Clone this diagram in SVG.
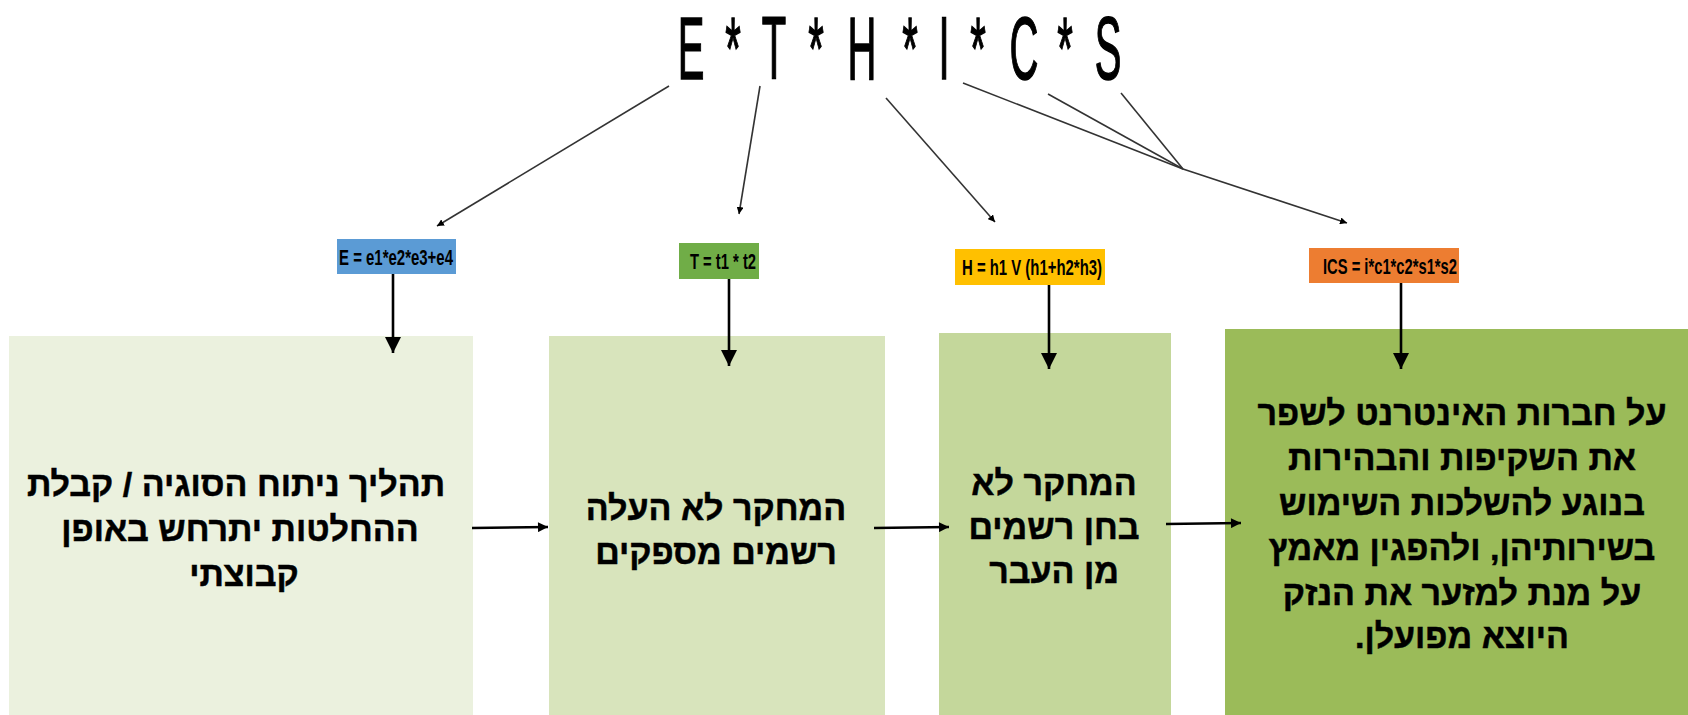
<svg xmlns="http://www.w3.org/2000/svg" width="1688" height="715" viewBox="0 0 1688 715">
<style>
.he{font-family:"Liberation Sans","DejaVu Sans",sans-serif;font-weight:bold;font-size:34px;fill:#000;stroke:#000;stroke-width:0.5;text-anchor:middle;direction:rtl;unicode-bidi:embed}
.lbl{font-family:"Liberation Sans","DejaVu Sans",sans-serif;font-weight:bold;font-size:22px;fill:#000;text-anchor:middle}
.thin{stroke:#333;stroke-width:1.6;fill:none}
.thick{stroke:#000;stroke-width:2.6;fill:none}
</style>
<defs>
<marker id="ah" viewBox="0 0 10 10" refX="10" refY="5" markerWidth="7" markerHeight="7" markerUnits="userSpaceOnUse" orient="auto"><path d="M0,0 L10,5 L0,10 z" fill="#000"/></marker>
<marker id="ahs" viewBox="0 0 10 10" refX="10" refY="5" markerWidth="12" markerHeight="10" markerUnits="userSpaceOnUse" orient="auto"><path d="M0,0 L10,5 L0,10 z" fill="#000"/></marker>
<marker id="ahb" viewBox="0 0 10 10" refX="10" refY="5" markerWidth="16" markerHeight="16" markerUnits="userSpaceOnUse" orient="auto"><path d="M0,0 L10,5 L0,10 z" fill="#000"/></marker>
</defs>
<rect width="1688" height="715" fill="#fff"/>

<g id="title" transform="translate(691,0) scale(0.45,1)">
<text x="0 93.3 184.4 277.8 380 486.7 562.2 637.8 740 831.1 926.7" y="79" font-family="Liberation Sans, sans-serif" font-size="89" text-anchor="middle" fill="#000" stroke="#000" stroke-width="1.5">E*T*H*I*C*S</text>
</g>

<g id="label-e">
<rect x="337" y="239" width="119" height="35" fill="#5B9BD5"/>
<text class="lbl" x="396" y="265" textLength="114" lengthAdjust="spacingAndGlyphs">E = e1*e2*e3+e4</text>
</g>
<g id="label-t">
<rect x="679" y="243" width="80" height="36" fill="#70AD47"/>
<text class="lbl" x="723" y="269" textLength="66" lengthAdjust="spacingAndGlyphs">T = t1 * t2</text>
</g>
<g id="label-h">
<rect x="955" y="249" width="150" height="36" fill="#FFC000"/>
<text class="lbl" x="1032" y="275" textLength="140" lengthAdjust="spacingAndGlyphs">H = h1 V (h1+h2*h3)</text>
</g>
<g id="label-ics">
<rect x="1309" y="248" width="150" height="35" fill="#ED7D31"/>
<text class="lbl" x="1390" y="274" textLength="134" lengthAdjust="spacingAndGlyphs">ICS = i*c1*c2*s1*s2</text>
</g>

<g id="box1">
<rect x="9" y="336" width="464" height="379" fill="#EBF1DE"/>
<text class="he" x="236" y="496">תהליך ניתוח הסוגיה / קבלת</text>
<text class="he" x="240" y="541">ההחלטות יתרחש באופן</text>
<text class="he" x="244" y="586">קבוצתי</text>
</g>
<g id="box2">
<rect x="549" y="336" width="336" height="379" fill="#D8E4BC"/>
<text class="he" x="716" y="520">המחקר לא העלה</text>
<text class="he" x="716" y="564">רשמים מספקים</text>
</g>
<g id="box3">
<rect x="939" y="333" width="232" height="382" fill="#C4D79B"/>
<text class="he" x="1054" y="495">המחקר לא</text>
<text class="he" x="1054" y="539">בחן רשמים</text>
<text class="he" x="1054" y="583">מן העבר</text>
</g>
<g id="box4">
<rect x="1225" y="329" width="463" height="386" fill="#9BBB59"/>
<text class="he" x="1462" y="425">על חברות האינטרנט לשפר</text>
<text class="he" x="1462" y="470">את השקיפות והבהירות</text>
<text class="he" x="1462" y="515">בנוגע להשלכות השימוש</text>
<text class="he" x="1462" y="560">בשירותיהן, ולהפגין מאמץ</text>
<text class="he" x="1462" y="605">על מנת למזער את הנזק</text>
<text class="he" x="1462" y="648">היוצא מפועלן.</text>
</g>

<g id="connectors">
<line class="thin" x1="669" y1="86" x2="437" y2="226" marker-end="url(#ah)"/>
<line class="thin" x1="760" y1="86" x2="739" y2="214" marker-end="url(#ah)"/>
<line class="thin" x1="886" y1="98" x2="995" y2="222" marker-end="url(#ah)"/>
<line class="thin" x1="963" y1="83" x2="1183" y2="169"/>
<line class="thin" x1="1048" y1="94" x2="1183" y2="169"/>
<line class="thin" x1="1121" y1="93" x2="1183" y2="169"/>
<line class="thin" x1="1183" y1="169" x2="1347" y2="223" marker-end="url(#ah)"/>
<line class="thick" x1="393" y1="274" x2="393" y2="353" marker-end="url(#ahb)"/>
<line class="thick" x1="729" y1="279" x2="729" y2="366" marker-end="url(#ahb)"/>
<line class="thick" x1="1049" y1="285" x2="1049" y2="369" marker-end="url(#ahb)"/>
<line class="thick" x1="1401" y1="283" x2="1401" y2="369" marker-end="url(#ahb)"/>
<line class="thick" x1="472" y1="528" x2="548" y2="527" marker-end="url(#ahs)"/>
<line class="thick" x1="874" y1="528" x2="949" y2="527" marker-end="url(#ahs)"/>
<line class="thick" x1="1166" y1="524" x2="1241" y2="523" marker-end="url(#ahs)"/>
</g>
</svg>
